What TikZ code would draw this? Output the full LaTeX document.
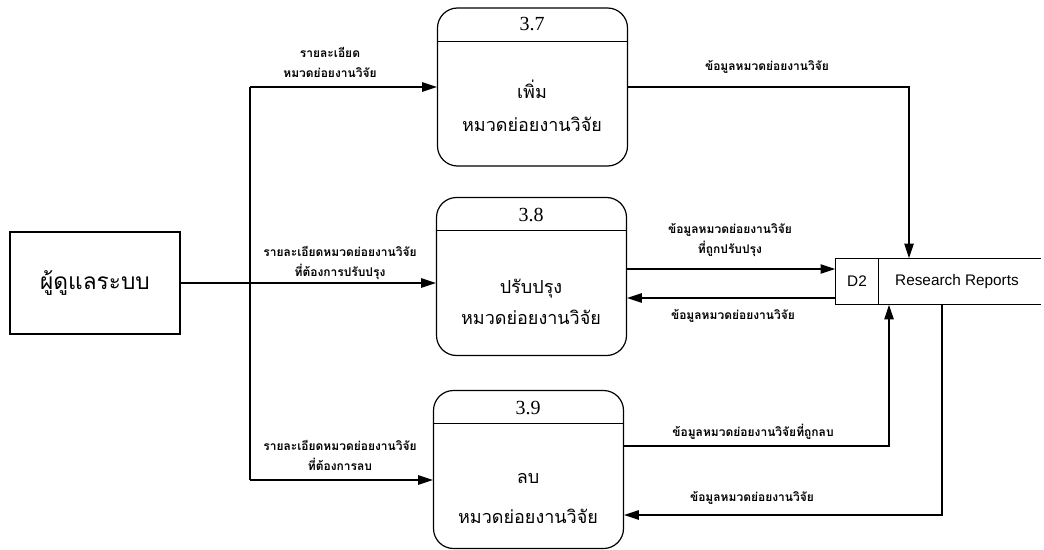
\documentclass[tikz,border=0pt]{standalone}
\usepackage{fontspec}
\setmainfont{Liberation Serif}
\newfontfamily\thaifont[Script=Thai]{Loma}
\newfontfamily\arialfont{Liberation Sans}
\usetikzlibrary{arrows.meta}

\begin{document}
\begin{tikzpicture}[
    x=0.75pt, y=-0.75pt, % pixel grid, y down
    line width=1.1pt,
    proc/.style = {draw, rounded corners=15pt, minimum width=142.5pt, minimum height=118.5pt, line width=0.9pt},
    entity/.style = {draw, minimum width=127.5pt, minimum height=76.5pt, line width=1pt},
    flow/.style = {-{Triangle[length=11pt,width=7pt]}, draw=black},
    flowlabel/.style = {font=\thaifont\bfseries\fontsize{9}{15}\selectfont, align=center, inner sep=0pt}
    ]
    \tikzstyle{proc_num} = [font=\fontsize{15}{18}\selectfont, inner sep=0pt]
    \tikzstyle{proc_name} = [font=\thaifont\fontsize{13.5}{25}\selectfont, align=center, inner sep=0pt]
    \tikzstyle{store_text} = [font=\arialfont\fontsize{11.5}{14}\selectfont, inner sep=0pt]
    \useasboundingbox (0,0) rectangle (1044,549);

    \node[entity] (admin) at (95,283) {\thaifont\fontsize{17}{20}\selectfont ผู้ดูแลระบบ};

    \node[proc] (p37) at (532.5,87) {};
    \node[proc] (p38) at (531.5,276.5) {};
    \node[proc] (p39) at (528.5,469.5) {};
    \foreach \p in {p37,p38,p39}
        \draw[line width=0.7pt] ([yshift=-25.5pt]\p.north west) -- ([yshift=-25.5pt]\p.north east);

    \node[proc_num] (n37) at (532,24) {3.7};
    \node[proc_num] (n38) at (531,215) {3.8};
    \node[proc_num] (n39) at (528,408) {3.9};
    \node[proc_name] (t37) at (532,106) {เพิ่ม\\หมวดย่อยงานวิจัย};
    \node[proc_name] (t38) at (531,302) {ปรับปรุง\\[-2pt]หมวดย่อยงานวิจัย};
    \node[proc_name] (t39) at (528,498) {ลบ\\[5pt]หมวดย่อยงานวิจัย};

    % data store
    \node (ds) [minimum width=153pt, minimum height=33.75pt] at (938,281.5) {};
    \draw (ds.north east) -- (ds.north west) -- (ds.south west) -- (ds.south east);
    \draw[line width=0.6pt] (878,0 |- ds.north) -- (878,0 |- ds.south);
    \node[store_text] (dsid) at (857,281.5) {D2};
    \node[store_text] (dsname) at (957,281.5) {Research Reports};

    % inputs from admin
    \coordinate (jt) at (250,87);
    \coordinate (jb) at (250,480);
    \draw (jt) -- (jb);
    \draw[flow] (admin.east) -- (admin.east -| p38.west);
    \draw[flow] (jt) -- (jt -| p37.west);
    \draw[flow] (jb) -- (jb -| p39.west);

    % flows with the store
    \draw[flow] (p37.east) -| (ds.north -| 909,0);
    \draw[flow] (p38.east |- 0,269) -- (ds.west |- 0,269);
    \draw[flow] (ds.west |- 0,298) -- (p38.east |- 0,298);
    \draw[flow] (p39.east |- 0,446) -| (ds.south -| 889,0);
    \draw[flow] (ds.south -| 942,0) |- (p39.east |- 0,515);

    \node[flowlabel] (l37) at (330,62) {รายละเอียด\\หมวดย่อยงานวิจัย};
    \node[flowlabel] (l38) at (340,263) {รายละเอียดหมวดย่อยงานวิจัย\\ที่ต้องการปรับปรุง};
    \node[flowlabel] (l39) at (340,455) {รายละเอียดหมวดย่อยงานวิจัย\\ที่ต้องการลบ};
    \node[flowlabel] (o37) at (767,67) {ข้อมูลหมวดย่อยงานวิจัย};
    \node[flowlabel] (o38) at (730,240) {ข้อมูลหมวดย่อยงานวิจัย\\ที่ถูกปรับปรุง};
    \node[flowlabel] (i38) at (733,316) {ข้อมูลหมวดย่อยงานวิจัย};
    \node[flowlabel] (o39) at (753,432) {ข้อมูลหมวดย่อยงานวิจัยที่ถูกลบ};
    \node[flowlabel] (i39) at (752,498) {ข้อมูลหมวดย่อยงานวิจัย};
\end{tikzpicture}
\end{document}
